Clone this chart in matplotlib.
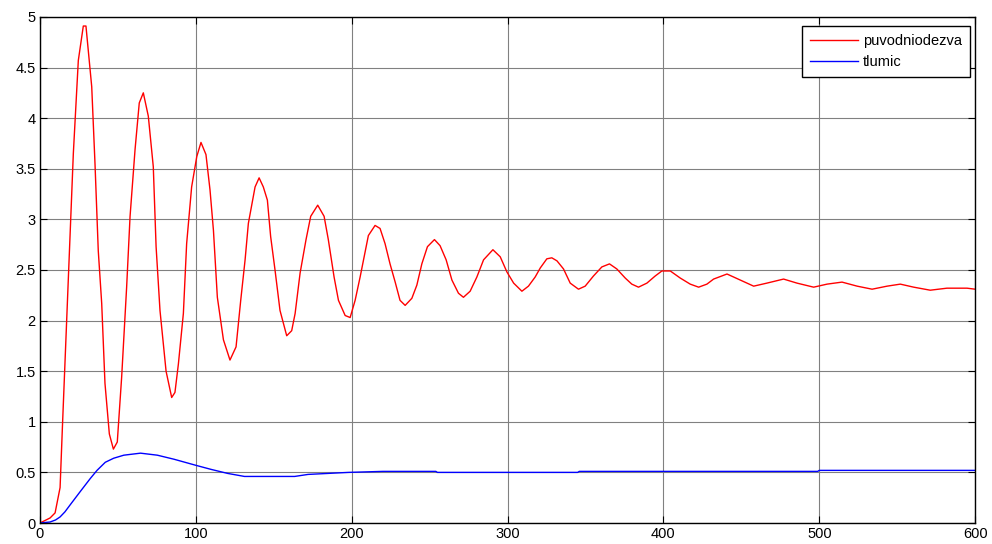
import matplotlib.pyplot as plt

plt.rcParams['font.family'] = ['Liberation Sans', 'DejaVu Sans']

# red response ("puvodniodezva")
red_t = [0, 6.5, 9.7, 12.9, 14.4, 17.1, 19.7, 21.4, 24.6, 27.8, 29.5, 33.2, 35.3,
         37.4, 39.6, 41.7, 44.5, 47.1, 49.6, 52.4, 55.6, 57.8, 61, 63.7, 66.3,
         69.5, 72.7, 74.5, 77, 80.9, 84.5, 86.6, 88.8, 92, 94.1, 97.3, 100.6,
         103.3, 106.5, 109.1, 111.3, 113.8, 117.7, 121.9, 125.8, 128.8, 131.6,
         133.7, 138, 140.6, 143.3, 145.9, 148, 150.8, 154, 158.3, 161.5, 163.7,
         166.9, 170.7, 173.7, 178.2, 182.3, 185, 188.7, 191.5, 195.8, 199,
         202.2, 205.4, 208, 210.7, 215, 218.2, 221.4, 224.6, 227.9, 231, 234.3,
         238.6, 241.8, 245, 248.6, 253.1, 256.7, 260.6, 264.3, 268.5, 271.7,
         276, 280.3, 284.6, 290.6, 295.3, 299.6, 303.9, 309.2, 313.4, 317.7,
         321, 325.2, 328.4, 331.7, 335.9, 340.2, 345.5, 349.8, 355.1, 360.5,
         365.4, 370.1, 375.5, 379.7, 384, 389.4, 394.7, 399, 404.4, 410.8,
         417.2, 422.6, 427.9, 432.2, 440.8, 449.3, 457.9, 466.4, 477.1, 485.7,
         496.4, 505, 514.6, 524.3, 533.9, 543.5, 552, 560.6, 571.2, 581.9,
         594.8, 600]
red_v = [0, 0.05, 0.1, 0.35, 0.95, 2.0, 3.02, 3.65, 4.57, 4.91, 4.91, 4.31, 3.55,
         2.69, 2.17, 1.38, 0.88, 0.73, 0.8, 1.44, 2.33, 3.03, 3.69, 4.15, 4.25,
         4.02, 3.52, 2.73, 2.1, 1.5, 1.24, 1.29, 1.57, 2.07, 2.76, 3.32, 3.62,
         3.76, 3.64, 3.29, 2.89, 2.23, 1.81, 1.61, 1.74, 2.2, 2.6,
         2.96, 3.32, 3.41, 3.32, 3.19, 2.83, 2.5, 2.1, 1.85, 1.9, 2.07,
         2.47, 2.8, 3.03, 3.14, 3.03, 2.8, 2.43, 2.2, 2.05, 2.03,
         2.2, 2.43, 2.63, 2.84, 2.94, 2.91, 2.76, 2.56, 2.38, 2.2, 2.15,
         2.22, 2.35, 2.56, 2.73, 2.8, 2.74, 2.6, 2.4, 2.27, 2.23,
         2.29, 2.43, 2.6, 2.7, 2.63, 2.48, 2.37, 2.29, 2.34, 2.43,
         2.52, 2.61, 2.62, 2.59, 2.51, 2.37, 2.31, 2.34, 2.44, 2.53,
         2.56, 2.51, 2.42, 2.36, 2.33, 2.37, 2.44, 2.49, 2.49, 2.42,
         2.36, 2.33, 2.36, 2.41, 2.46, 2.40, 2.34, 2.37, 2.41, 2.37,
         2.33, 2.36, 2.38, 2.34, 2.31, 2.34, 2.36, 2.33, 2.30, 2.32,
         2.32, 2.31]

# blue response ("tlumic")
blue_t = [0, 6.5, 10, 12.9, 16, 19.4, 25.8, 32.3, 36.6, 41.9, 47.3, 53.8, 64.5,
          75.3, 86, 100, 109.7, 120.4, 131.2, 144.1, 163.4, 172, 185, 198, 220,
          254, 255, 345, 346, 499, 500, 600]
blue_v = [0, 0.01, 0.03, 0.06, 0.11, 0.18, 0.31, 0.44, 0.52, 0.6, 0.64, 0.67,
          0.69, 0.67, 0.63, 0.57, 0.53, 0.49, 0.46, 0.46, 0.46, 0.48, 0.49, 0.5,
          0.51, 0.51, 0.5, 0.5, 0.51, 0.51, 0.52, 0.52]

xticks = [0, 100, 200, 300, 400, 500, 600]
yticks = [0, 0.5, 1, 1.5, 2, 2.5, 3, 3.5, 4, 4.5, 5]

fig = plt.figure(figsize=(9.92, 5.44), dpi=100)
ax = fig.add_axes([0.0403, 0.0386, 0.9427, 0.9303])

ax.plot(red_t, red_v, color='red', linewidth=1.0, label='puvodniodezva')
ax.plot(blue_t, blue_v, color='blue', linewidth=1.0, label='tlumic')

ax.set_xlim(0, 600)
ax.set_ylim(0, 5)
ax.set_xticks(xticks)
ax.set_yticks(yticks)
ax.set_xticklabels([str(x) for x in xticks])
ax.set_yticklabels(['0', '0.5', '1', '1.5', '2', '2.5', '3', '3.5', '4', '4.5', '5'])
ax.tick_params(direction='in', length=5, top=True, right=True, labelsize=10.5, pad=3)
ax.grid(True, color='0.5', linewidth=0.8)
for s in ax.spines.values():
    s.set_linewidth(1.0)

leg = ax.legend(loc='upper right', bbox_to_anchor=(0.9947, 0.982), fancybox=False,
                edgecolor='black', framealpha=1, fontsize=10.5, handlelength=3.3,
                borderaxespad=0, borderpad=0.55, labelspacing=0.5, handletextpad=0.35)
leg.get_frame().set_linewidth(1.0)

plt.savefig('out.png', dpi=100)
